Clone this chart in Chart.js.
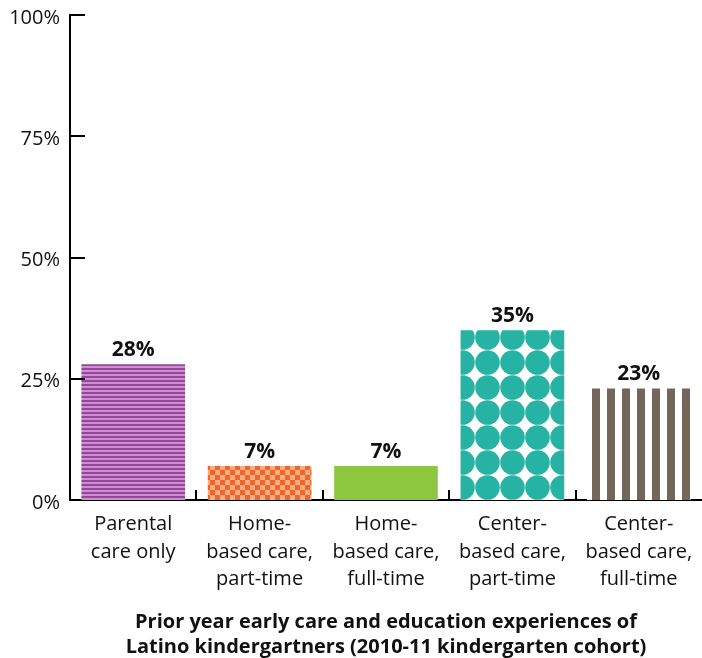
<!DOCTYPE html>
<html>
<head>
<meta charset="utf-8">
<script src="https://cdn.jsdelivr.net/npm/chart.js"></script>
<style>
  html, body { margin: 0; padding: 0; background: #fff; }
  #wrap { width: 702px; height: 658px; }
</style>
</head>
<body>
<div id="wrap"><canvas id="chart"></canvas></div>
<script>
// data
const categories = [
  ["Parental", "care only"],
  ["Home-", "based care,", "part-time"],
  ["Home-", "based care,", "full-time"],
  ["Center-", "based care,", "part-time"],
  ["Center-", "based care,", "full-time"]
];
const values = [28, 7, 7, 35, 23];
const yTickValues = [0, 25, 50, 75, 100];
const axisTitle = [
  "Prior year early care and education experiences of",
  "Latino kindergartners (2010-11 kindergarten cohort)"
];

const FONT = "'Open Sans', 'Noto Sans', sans-serif";

// small tiles used as bar fills
function makePattern(w, h, draw) {
  const c = document.createElement("canvas");
  c.width = w; c.height = h;
  const g = c.getContext("2d");
  draw(g, w, h);
  return g.createPattern(c, "repeat");
}

const purpleStripes = makePattern(4, 4, (g, w, h) => {
  g.fillStyle = "#c892ca"; g.fillRect(0, 0, w, h);
  g.fillStyle = "#9a43a0"; g.fillRect(0, 0, w, 2);
});
const orangeChecks = makePattern(10, 10, (g, w, h) => {
  g.fillStyle = "#f9ad85"; g.fillRect(0, 0, w, h);
  g.fillStyle = "#f2652a"; g.fillRect(0, 0, 5, 5); g.fillRect(5, 5, 5, 5);
});
const tealDots = makePattern(25, 25, (g, w, h) => {
  g.fillStyle = "#fff"; g.fillRect(0, 0, w, h);
  g.fillStyle = "#27b3a4";
  g.beginPath(); g.arc(12.5, 12.5, 12.3, 0, Math.PI * 2); g.fill();
});
const brownBars = makePattern(15, 4, (g, w, h) => {
  g.fillStyle = "#fff"; g.fillRect(0, 0, w, h);
  g.fillStyle = "#726759"; g.fillRect(7, 0, 8, h);
});
const fills = [purpleStripes, orangeChecks, "#8dc63f", tealDots, brownBars];

// tick marks that sit inside the plot, plus value labels
const decorations = {
  id: "decorations",
  afterDraw(chart) {
    const { ctx, chartArea, scales: { x, y } } = chart;
    ctx.save();
    ctx.strokeStyle = "#000";
    ctx.lineWidth = 2;
    yTickValues.slice(1).forEach(v => {
      const py = Math.round(y.getPixelForValue(v));
      ctx.beginPath();
      ctx.moveTo(chartArea.left, py);
      ctx.lineTo(chartArea.left + 15, py);
      ctx.stroke();
    });
    for (let i = 0; i < categories.length - 1; i++) {
      const px = Math.round((x.getPixelForValue(i) + x.getPixelForValue(i + 1)) / 2);
      ctx.beginPath();
      ctx.moveTo(px, chartArea.bottom);
      ctx.lineTo(px, chartArea.bottom - 10);
      ctx.stroke();
    }
    ctx.fillStyle = "#111";
    ctx.font = "bold 21px " + FONT;
    ctx.textAlign = "center";
    ctx.textBaseline = "alphabetic";
    chart.getDatasetMeta(0).data.forEach((bar, i) => {
      ctx.fillText(values[i] + "%", bar.x, bar.y - 8);
    });
    ctx.restore();
  }
};

new Chart(document.getElementById("chart"), {
  type: "bar",
  data: {
    labels: categories,
    datasets: [{
      data: values,
      backgroundColor: fills,
      borderWidth: 0,
      barPercentage: 0.82,
      categoryPercentage: 1
    }]
  },
  options: {
    responsive: true,
    maintainAspectRatio: false,
    animation: false,
    devicePixelRatio: 1,
    layout: { padding: { top: 15, left: 0, right: 0, bottom: 0 } },
    plugins: { legend: { display: false }, tooltip: { enabled: false } },
    scales: {
      x: {
        grid: { display: false, drawTicks: false },
        border: { display: true, color: "#000", width: 2 },
        ticks: {
          color: "#111",
          font: { family: FONT, size: 20, lineHeight: 1.375 },
          padding: 11,
          maxRotation: 0,
          autoSkip: false
        },
        title: {
          display: true,
          text: axisTitle,
          color: "#111",
          font: { family: FONT, size: 20, weight: "bold", lineHeight: 1.25 },
          padding: { top: 0, bottom: -2 }
        },
        afterFit(s) { s.height = 158; s.paddingLeft = 0; s.paddingRight = 0; }
      },
      y: {
        min: 0,
        max: 100,
        grid: { display: false, drawTicks: false },
        border: { display: true, color: "#000", width: 2 },
        ticks: {
          color: "#111",
          font: { family: FONT, size: 20 },
          padding: 10,
          labelOffset: 3,
          callback: v => v + "%"
        },
        afterBuildTicks(s) { s.ticks = yTickValues.map(v => ({ value: v })); },
        afterFit(s) { s.width = 70; s.paddingTop = 0; s.paddingBottom = 0; }
      }
    }
  },
  plugins: [decorations]
});
</script>
</body>
</html>
